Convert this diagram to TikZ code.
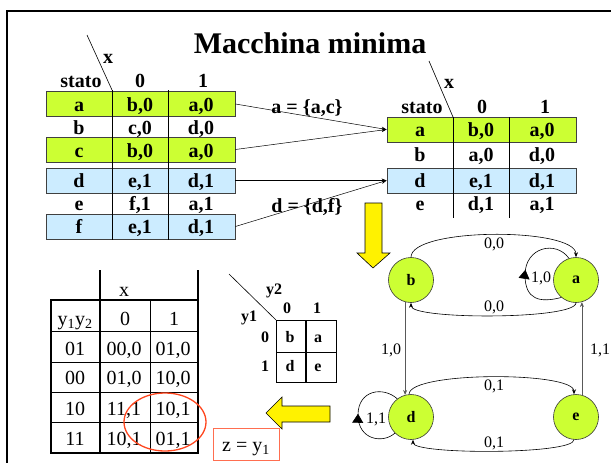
\documentclass[tikz,border=0pt]{standalone}
\usepackage{fontspec}
\setmainfont{Liberation Serif}
\usetikzlibrary{arrows.meta,decorations.markings}
\definecolor{lime}{RGB}{204,255,51}
\definecolor{lblue}{RGB}{204,236,255}
\definecolor{zred}{RGB}{255,70,30}
\definecolor{zbox}{RGB}{255,110,80}
\begin{document}
\begin{tikzpicture}[x=1pt,y=-1pt,
  tb/.style={font=\bfseries\fontsize{20}{24}\selectfont, inner sep=0pt, text height=14pt, text depth=0pt},
  limerow/.style={draw=black!75, line width=0.9pt, fill=lime, minimum width=189pt, minimum height=25pt, inner sep=0pt},
  bluerow/.style={limerow, fill=lblue},
  conn/.style={-{Stealth[length=5pt,width=4pt]}, line width=0.5pt},
  st/.style={circle, draw=black!80, line width=0.6pt, fill=lime, minimum size=45pt, inner sep=0pt, font=\bfseries\fontsize{16}{19}\selectfont},
  lab/.style={font=\fontsize{16}{19}\selectfont, inner sep=0pt, text height=11pt, text depth=0pt},
  tr/.style={font=\fontsize{20}{24}\selectfont, inner sep=0pt, text height=14pt, text depth=0pt},
  kb/.style={font=\bfseries\fontsize{16}{19}\selectfont, inner sep=0pt, text height=11pt, text depth=0pt},
  yarrow/.style={fill=yellow, draw=black, line width=0.6pt},
  trans/.style={-{Stealth[length=5pt,width=4pt]}, line width=0.6pt},
  vtrans/.style={trans, draw=black!65},
  loopmark/.style={line width=0.6pt, postaction={decorate, decoration={markings, mark=at position 0.5 with {\arrow{Triangle[length=9pt,width=11pt]}}}}}
]
\useasboundingbox (0,0) rectangle (611,463);
% frame
\draw[line width=2pt] (7,463) -- (7,11) -- (611,11);
\node[font=\bfseries\fontsize{30}{36}\selectfont, inner sep=0pt, anchor=base] (title) at (310,53) {Macchina minima};

% ---------- left table ----------
\node[limerow] (La) at (140.5,104) {};
\node[limerow] (Lc) at (140.5,149.5) {};
\node[bluerow] (Ld) at (140.5,180.5) {};
\node[bluerow] (Lf) at (140.5,226.5) {};
\draw[line width=0.9pt] (112,90) -- (112,240) (168,90) -- (168,240);
\draw[line width=0.6pt] (87,35) -- (112,90);
\node[tb] (Lx) at (108,56) {x};
\node[tb] (Lst) at (81,80) {stato};
\node[tb] (L0) at (140,80) {0};
\node[tb] (L1) at (203,80) {1};
\node[tb] (La0) at (79,104) {a}; \node[tb] (La1) at (140,104) {b,0}; \node[tb] (La2) at (201,104) {a,0};
\node[tb] (Lb0) at (79,127) {b}; \node[tb] (Lb1) at (140,127) {c,0}; \node[tb] (Lb2) at (201,127) {d,0};
\node[tb] (Lc0) at (79,150) {c}; \node[tb] (Lc1) at (140,150) {b,0}; \node[tb] (Lc2) at (201,150) {a,0};
\node[tb] (Ld0) at (79,180) {d}; \node[tb] (Ld1) at (140,180) {e,1}; \node[tb] (Ld2) at (201,180) {d,1};
\node[tb] (Le0) at (79,203) {e}; \node[tb] (Le1) at (140,203) {f,1}; \node[tb] (Le2) at (201,203) {a,1};
\node[tb] (Lf0) at (79,226) {f}; \node[tb] (Lf1) at (140,226) {e,1}; \node[tb] (Lf2) at (201,226) {d,1};

% ---------- right table ----------
\node[limerow] (Ra) at (481.5,129.5) {};
\node[bluerow] (Rd) at (481.5,180.5) {};
\draw[line width=0.9pt] (453,117) -- (453,218) (509,117) -- (509,218);
\draw[line width=0.6pt] (429,61) -- (453,117);
\node[tb] (Rx) at (449,81) {x};
\node[tb] (Rst) at (422,106) {stato};
\node[tb] (R0) at (482,106) {0};
\node[tb] (R1) at (545,106) {1};
\node[tb] (Ra0) at (420,129) {a}; \node[tb] (Ra1) at (481,129) {b,0}; \node[tb] (Ra2) at (542,129) {a,0};
\node[tb] (Rb0) at (420,154) {b}; \node[tb] (Rb1) at (481,154) {a,0}; \node[tb] (Rb2) at (542,154) {d,0};
\node[tb] (Rd0) at (420,180) {d}; \node[tb] (Rd1) at (481,180) {e,1}; \node[tb] (Rd2) at (542,180) {d,1};
\node[tb] (Re0) at (420,203) {e}; \node[tb] (Re1) at (481,203) {d,1}; \node[tb] (Re2) at (542,203) {a,1};

% connectors between tables
\draw[conn] (La.east) -- (Ra.west);
\draw[conn] (Lc.east) -- (Ra.west);
\draw[conn] (Ld.east) -- (Rd.west);
\draw[conn] (Lf.east) -- (Rd.west);
\node[tb] (lac) at (307,106) {a = \{a,c\}};
\node[tb] (ldf) at (307,205) {d = \{d,f\}};

% down yellow arrow
\draw[yarrow] (365,203) -- (382,203) -- (382,253) -- (390,253) -- (373,268) -- (357,253) -- (365,253) -- cycle;

% ---------- state diagram ----------
\node[st] (b) at (411,280) {b};
\node[st] (a) at (576,280) {a};
\node[st] (d) at (411,417) {d};
\node[st] (e) at (576,417) {e};
\draw[trans] (b.north) .. controls +(0,-30) and +(0,-30) .. (a.north);
\draw[trans] (a.south) .. controls +(0,17) and +(0,17) .. (b.south);
\draw[trans] (d.95) .. controls +(0,-23) and +(0,-23) .. (e.95);
\draw[trans] (e.265) .. controls +(0,15) and +(0,15) .. (d.275);
\draw[vtrans] (b.255) -- (d.105);
\draw[vtrans] (e.75) -- (a.285);
\draw[loopmark] (a.230) .. controls (540,303) and (525,300) .. (525,275) .. controls (525,247) and (556,240) .. (a.108);
\draw[loopmark] (d.225) .. controls (383,444) and (358,440) .. (358,415) .. controls (358,390) and (383,386) .. (d.127);
\node[lab] (l1) at (494,243) {0,0};
\node[lab] (l2) at (494,306) {0,0};
\node[lab] (l3) at (541,277) {1,0};
\node[lab] (l4) at (391,349) {1,0};
\node[lab] (l5) at (600,349) {1,1};
\node[lab] (l6) at (494,385) {0,1};
\node[lab] (l7) at (494,442) {0,1};
\node[lab] (l8) at (376,418) {1,1};

% ---------- bottom-left table ----------
\draw[line width=1.5pt] (100,270) -- (100,453) (198,270) -- (198,453);
\draw[line width=1.5pt] (51,300) rectangle (198,453);
\draw[line width=1pt] (150,300) -- (150,453);
\draw[line width=1pt] (51,331) -- (198,331) (51,362) -- (198,362) (51,392) -- (198,392) (51,422) -- (198,422);
\node[tr] (Tx) at (124,289) {x};
\node[tr] (Th0) at (75,318) {y\textsubscript{1}y\textsubscript{2}};
\node[tr] (Th1) at (125,318) {0};
\node[tr] (Th2) at (174,318) {1};
\node[tr] (T10) at (75,348) {01}; \node[tr] (T11) at (124,348) {00,0}; \node[tr] (T12) at (173,348) {01,0};
\node[tr] (T20) at (75,377) {00}; \node[tr] (T21) at (124,377) {01,0}; \node[tr] (T22) at (173,377) {10,0};
\node[tr] (T30) at (75,408) {10}; \node[tr] (T31) at (124,408) {11,1}; \node[tr] (T32) at (173,408) {10,1};
\node[tr] (T40) at (75,438) {11}; \node[tr] (T41) at (124,438) {10,1}; \node[tr] (T42) at (173,438) {01,1};
\draw[zred, line width=1.3pt] (165,422) ellipse [x radius=41, y radius=29];

% ---------- K-map ----------
\draw[line width=0.6pt] (229,274) -- (276,320);
\draw[line width=0.9pt] (276,320) rectangle (336,382);
\draw[line width=1.2pt] (306,320) -- (306,382);
\draw[line width=0.9pt] (276,352) -- (336,352);
\node[kb] (Ky2) at (274,289) {y2};
\node[kb] (Ky1) at (249,316) {y1};
\node[kb] (Kc0) at (287,308) {0};
\node[kb] (Kc1) at (317,308) {1};
\node[kb] (Kr0) at (265,337) {0};
\node[kb] (Kr1) at (265,366) {1};
\node[kb] (Kb) at (290,337) {b};
\node[kb] (Ka) at (318,337) {a};
\node[kb] (Kd) at (290,366) {d};
\node[kb] (Ke) at (318,366) {e};

% left yellow arrow
\draw[yarrow] (330,406) -- (282,406) -- (282,397) -- (266,413) -- (282,429) -- (282,422) -- (330,422) -- cycle;

% z box
\node[draw=zbox, line width=0.8pt, minimum width=66pt, minimum height=32pt, inner sep=0pt,
      font=\fontsize{20}{24}\selectfont, text height=14pt, text depth=0pt] (zb) at (246,444) {z = y\textsubscript{1}};
\end{tikzpicture}
\end{document}
